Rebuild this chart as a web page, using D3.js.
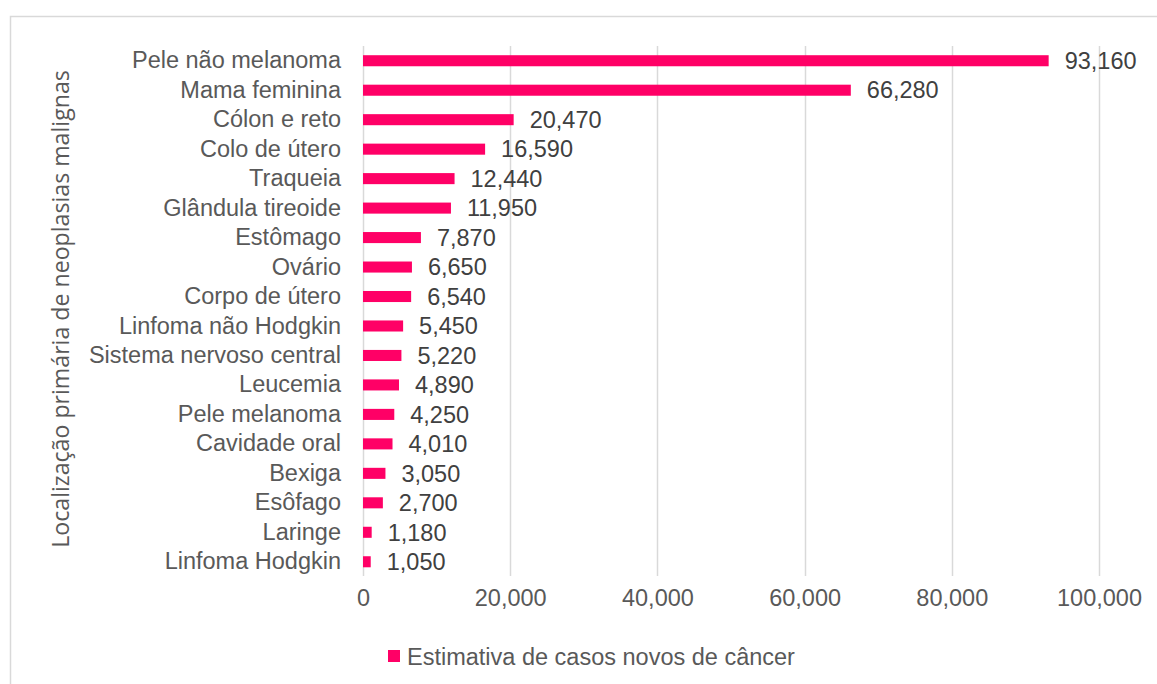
<!DOCTYPE html>
<html><head><meta charset="utf-8">
<script src="https://cdn.jsdelivr.net/npm/d3@7"></script>
<style>body{margin:0;background:#fff;} svg{display:block;}</style>
</head><body>
<svg id="c" width="1157" height="684"></svg>
<script>
const categories = ["Pele não melanoma","Mama feminina","Cólon e reto","Colo de útero","Traqueia","Glândula tireoide","Estômago","Ovário","Corpo de útero","Linfoma não Hodgkin","Sistema nervoso central","Leucemia","Pele melanoma","Cavidade oral","Bexiga","Esôfago","Laringe","Linfoma Hodgkin"];
const values = [93160,66280,20470,16590,12440,11950,7870,6650,6540,5450,5220,4890,4250,4010,3050,2700,1180,1050];
const tickValues = [0,20000,40000,60000,80000,100000];
const seriesName = "Estimativa de casos novos de câncer";
const yTitle = "Localização primária de neoplasias malignas";

const svg = d3.select("#c");
const font = "'Liberation Sans', Arial, sans-serif";
const fs = 23.5;

svg.append("rect").attr("x",10.5).attr("y",16.5).attr("width",1200).attr("height",700)
  .attr("fill","#fff").attr("stroke","#d9d9d9").attr("stroke-width",1.5);

const x = d3.scaleLinear().domain([0,100000]).range([363,1099]);
const y = d3.scaleBand().domain(categories).range([46,576.5]).paddingInner(0.625).paddingOuter(0.3125);

// gridlines
svg.append("g").selectAll("line").data(tickValues).join("line")
  .attr("x1",d=>Math.round(x(d))+0.5).attr("x2",d=>Math.round(x(d))+0.5)
  .attr("y1",46).attr("y2",576).attr("stroke","#d9d9d9").attr("stroke-width",1.5);

// x axis labels
const xAxis = d3.axisBottom(x).tickValues(tickValues).tickFormat(d3.format(",")).tickSize(0).tickPadding(0);
const gx = svg.append("g").attr("transform","translate(0,589)").call(xAxis);
gx.select(".domain").remove();
gx.selectAll("text").attr("font-family",font).attr("font-size",fs).attr("fill","#595959").attr("dy","0.71em");

// y axis labels
const yAxis = d3.axisLeft(y).tickSize(0).tickPadding(22);
const gy = svg.append("g").attr("transform","translate(363,0)").call(yAxis);
gy.select(".domain").remove();
gy.selectAll("text").attr("font-family",font).attr("font-size",fs).attr("fill","#595959");

// bars
svg.append("g").selectAll("rect").data(values).join("rect")
  .attr("x",x(0)).attr("y",(d,i)=>y(categories[i]))
  .attr("width",d=>x(d)-x(0)).attr("height",y.bandwidth())
  .attr("fill","#ff0066");

// value labels
svg.append("g").selectAll("text").data(values).join("text")
  .attr("x",d=>x(d)+16).attr("y",(d,i)=>y(categories[i])+y.bandwidth()/2)
  .attr("dy","0.35em").attr("font-family",font).attr("font-size",fs).attr("fill","#404040")
  .text(d=>d3.format(",")(d));

// y title
const yt = svg.append("text").attr("transform","translate(69,309) rotate(-90)")
  .attr("text-anchor","middle").attr("font-family","'Open Sans', sans-serif").attr("font-size",20)
  .attr("fill","#595959").text(yTitle);
const L = yt.node().getComputedTextLength();
yt.attr("font-size", 20*478/L);

// legend
svg.append("rect").attr("x",388).attr("y",650).attr("width",12).attr("height",12).attr("fill","#ff0066");
svg.append("text").attr("x",407).attr("y",665).attr("font-family",font).attr("font-size",fs)
  .attr("fill","#595959").text(seriesName);
</script>
</body></html>
